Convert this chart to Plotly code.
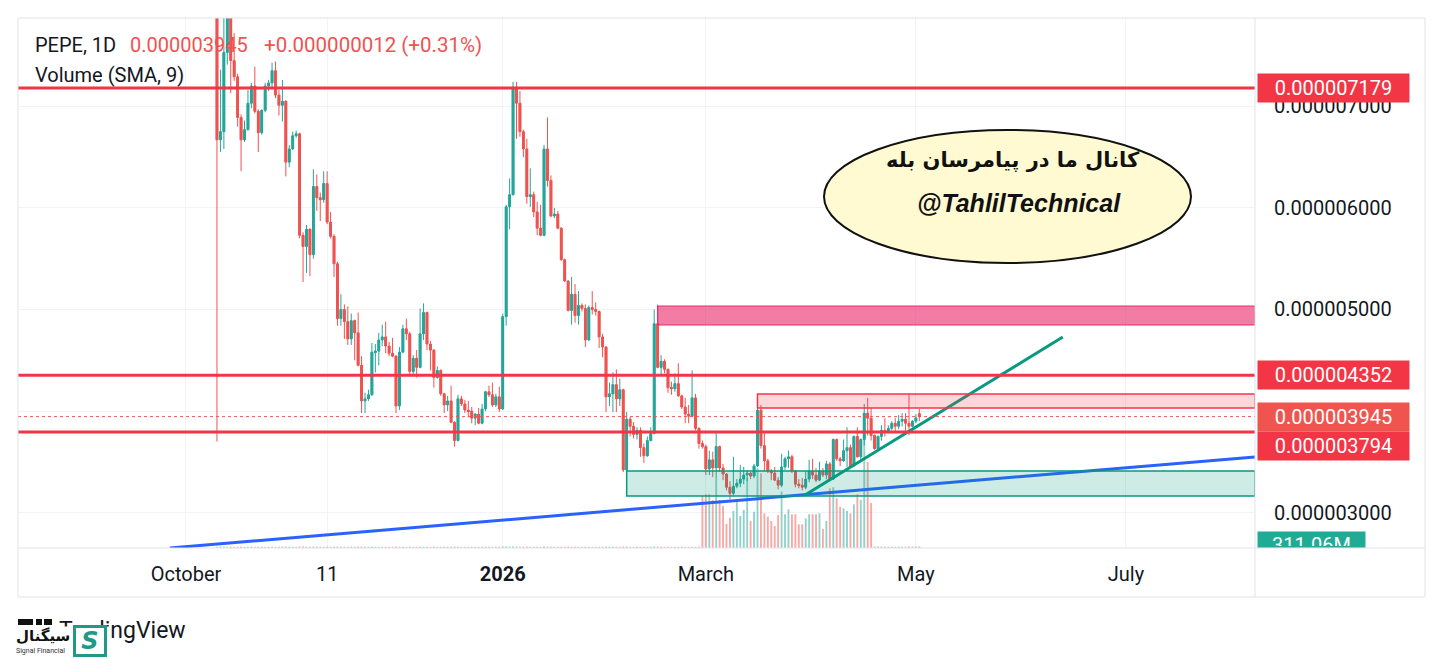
import plotly.graph_objects as go
import pandas as pd

# ---------------- data (prices in units of 1e-6) ----------------
dates = pd.date_range('2025-10-10', '2026-05-02', freq='D')

open_e6 = [
    # Oct 10-31
    9.00, 6.67, 6.75, 7.53, 7.88, 7.45, 7.29, 6.89, 6.67, 6.77, 7.03, 7.20, 6.95, 6.74, 6.96, 7.20, 7.23, 7.35, 7.11, 7.01, 7.05, 6.45,
    # Nov
    6.58, 6.71, 6.73, 5.73, 5.62, 5.79, 5.54, 6.21, 6.10, 6.08, 6.24, 5.86, 5.72, 5.45, 4.91, 5.00, 4.88, 4.71, 4.89, 4.77, 4.45, 4.10, 4.12, 4.16, 4.58, 4.59, 4.70, 4.73, 4.64, 4.57,
    # Dec
    4.54, 4.05, 4.58, 4.81, 4.76, 4.39, 4.52, 4.43, 4.76, 4.97, 4.66, 4.60, 4.33, 4.40, 4.17, 4.06, 4.10, 3.89, 3.71, 4.12, 4.07, 4.01, 4.00, 3.93, 3.97, 3.88, 4.02, 4.19, 4.16, 4.06, 4.14,
    # Jan
    4.02, 4.93, 6.01, 6.13, 7.19, 7.03, 6.75, 6.58, 6.11, 6.13, 5.96, 5.80, 5.73, 6.58, 6.27, 5.92, 5.94, 5.80, 5.49, 5.28, 4.99, 5.15, 4.94, 5.04, 5.01, 4.70, 5.02, 5.00, 4.98, 4.73, 4.63,
    # Feb
    4.14, 4.17, 4.26, 4.12, 4.21, 3.42, 3.92, 3.85, 3.77, 3.81, 3.64, 3.56, 3.71, 3.78, 4.86, 4.43, 4.49, 4.41, 4.23, 4.22, 4.27, 4.15, 4.04, 3.97, 3.95, 4.13, 3.83, 3.68,
    # Mar
    3.65, 3.43, 3.52, 3.44, 3.65, 3.44, 3.38, 3.25, 3.19, 3.26, 3.29, 3.33, 3.37, 3.39, 3.36, 3.46, 4.01, 3.66, 3.51, 3.41, 3.39, 3.32, 3.27, 3.45, 3.53, 3.55, 3.41, 3.28, 3.27, 3.25, 3.33,
    # Apr
    3.41, 3.37, 3.32, 3.41, 3.37, 3.48, 3.33, 3.72, 3.53, 3.51, 3.61, 3.64, 3.46, 3.75, 3.55, 3.72, 3.98, 3.93, 3.76, 3.63, 3.75, 3.81, 3.79, 3.83, 3.88, 3.85, 3.90, 3.92, 3.88, 3.85,
    # May
    3.90, 3.975,
]
high_e6 = [
    9.20, 7.36, 7.88, 8.05, 7.95, 7.72, 7.32, 6.92, 6.86, 7.16, 7.23, 7.39, 6.97, 6.97, 7.23, 7.26, 7.43, 7.44, 7.16, 7.26, 7.06, 6.62,
    6.75, 6.76, 6.74, 5.76, 5.83, 5.80, 6.38, 6.33, 6.15, 6.36, 6.36, 5.96, 5.74, 5.47, 5.15, 5.05, 5.03, 4.96, 4.90, 4.97, 4.54, 4.18, 4.21, 4.67, 4.66, 4.77, 4.85, 4.88, 4.68, 4.72,
    4.55, 4.63, 4.85, 4.91, 4.78, 4.55, 4.60, 5.01, 5.06, 4.98, 4.69, 4.61, 4.44, 4.41, 4.18, 4.15, 4.25, 3.90, 4.16, 4.15, 4.11, 4.10, 4.04, 3.98, 4.03, 4.07, 4.20, 4.25, 4.28, 4.17, 4.24,
    4.96, 6.03, 6.29, 7.24, 7.24, 7.15, 6.77, 6.68, 6.39, 6.16, 6.06, 6.03, 6.62, 6.89, 6.32, 6.00, 5.97, 5.81, 5.50, 5.29, 5.32, 5.25, 5.18, 5.06, 5.05, 5.04, 5.18, 5.07, 4.99, 4.76, 4.64,
    4.28, 4.38, 4.41, 4.32, 4.22, 3.99, 3.94, 3.89, 3.84, 3.84, 3.68, 3.75, 3.84, 5.00, 5.05, 4.55, 4.51, 4.42, 4.29, 4.37, 4.47, 4.16, 4.13, 4.06, 4.40, 4.17, 3.84, 3.71,
    3.67, 3.61, 3.60, 3.80, 3.66, 3.48, 3.39, 3.31, 3.55, 3.33, 3.47, 3.45, 3.42, 3.40, 3.48, 4.16, 4.06, 3.78, 3.53, 3.43, 3.45, 3.35, 3.58, 3.55, 3.61, 3.57, 3.42, 3.33, 3.34, 3.41, 3.52,
    3.53, 3.44, 3.50, 3.44, 3.51, 3.50, 3.73, 3.73, 3.55, 3.72, 3.84, 3.67, 3.76, 3.84, 3.73, 4.07, 4.13, 4.03, 3.77, 3.76, 3.86, 3.93, 3.86, 3.90, 3.93, 3.96, 3.98, 3.98, 4.17, 3.91,
    3.97, 4.02,
]
low_e6 = [
    3.70, 6.55, 6.58, 7.41, 7.13, 7.25, 6.80, 6.36, 6.65, 6.76, 6.98, 6.93, 6.55, 6.72, 6.94, 7.15, 7.19, 7.08, 6.91, 6.85, 6.31, 6.40,
    6.57, 6.69, 5.70, 5.27, 5.36, 5.33, 5.50, 5.97, 5.87, 6.05, 5.84, 5.70, 5.32, 4.84, 4.84, 4.71, 4.65, 4.65, 4.50, 4.44, 3.98, 3.98, 4.10, 4.15, 4.38, 4.45, 4.64, 4.57, 4.54, 4.53,
    3.98, 4.01, 4.57, 4.70, 4.34, 4.36, 4.33, 4.42, 4.70, 4.60, 4.40, 4.23, 4.32, 4.15, 3.98, 4.00, 3.88, 3.65, 3.70, 4.05, 3.98, 3.94, 3.88, 3.86, 3.87, 3.87, 4.00, 4.14, 4.04, 4.04, 3.99,
    4.01, 4.84, 5.79, 6.12, 6.68, 6.70, 6.50, 6.04, 6.01, 5.91, 5.73, 5.72, 5.72, 6.21, 5.91, 5.90, 5.79, 5.48, 5.27, 4.98, 4.85, 4.87, 4.85, 4.98, 4.63, 4.69, 4.95, 4.94, 4.62, 4.53, 3.99,
    4.05, 3.99, 3.99, 4.05, 3.40, 3.41, 3.75, 3.73, 3.72, 3.55, 3.49, 3.55, 3.70, 3.77, 4.42, 4.36, 4.37, 4.18, 4.16, 4.19, 4.14, 4.02, 3.88, 3.88, 3.94, 3.81, 3.63, 3.63,
    3.37, 3.37, 3.35, 3.35, 3.40, 3.32, 3.22, 3.13, 3.17, 3.24, 3.25, 3.28, 3.31, 3.33, 3.34, 3.45, 3.63, 3.41, 3.39, 3.32, 3.31, 3.23, 3.25, 3.42, 3.44, 3.39, 3.25, 3.24, 3.22, 3.23, 3.30,
    3.33, 3.30, 3.31, 3.35, 3.33, 3.31, 3.32, 3.51, 3.46, 3.50, 3.45, 3.45, 3.45, 3.54, 3.52, 3.66, 3.76, 3.71, 3.62, 3.61, 3.71, 3.75, 3.78, 3.81, 3.80, 3.82, 3.85, 3.80, 3.76, 3.84,
    3.88, 3.90,
]
close_e6 = [
    6.67, 6.75, 7.53, 7.88, 7.45, 7.29, 6.89, 6.67, 6.77, 7.03, 7.20, 6.95, 6.74, 6.96, 7.20, 7.23, 7.35, 7.11, 7.01, 7.05, 6.45, 6.58,
    6.71, 6.73, 5.73, 5.62, 5.79, 5.54, 6.21, 6.10, 6.08, 6.24, 5.86, 5.72, 5.45, 4.91, 5.00, 4.88, 4.71, 4.89, 4.77, 4.45, 4.10, 4.12, 4.16, 4.58, 4.59, 4.70, 4.73, 4.64, 4.57, 4.54,
    4.05, 4.58, 4.81, 4.76, 4.39, 4.52, 4.43, 4.76, 4.97, 4.66, 4.60, 4.33, 4.40, 4.17, 4.06, 4.10, 3.89, 3.71, 4.12, 4.07, 4.01, 4.00, 3.93, 3.97, 3.88, 4.02, 4.19, 4.16, 4.06, 4.14, 4.02,
    4.93, 6.01, 6.13, 7.19, 7.03, 6.75, 6.58, 6.11, 6.13, 5.96, 5.80, 5.73, 6.58, 6.27, 5.92, 5.94, 5.80, 5.49, 5.28, 4.99, 5.15, 4.94, 5.04, 5.01, 4.70, 5.02, 5.00, 4.98, 4.73, 4.63, 4.14,
    4.17, 4.26, 4.12, 4.21, 3.42, 3.92, 3.85, 3.77, 3.81, 3.64, 3.56, 3.71, 3.78, 4.86, 4.43, 4.49, 4.41, 4.23, 4.22, 4.27, 4.15, 4.04, 3.97, 3.95, 4.13, 3.83, 3.68, 3.65,
    3.43, 3.52, 3.44, 3.65, 3.44, 3.38, 3.25, 3.19, 3.26, 3.29, 3.33, 3.37, 3.39, 3.36, 3.46, 4.01, 3.66, 3.51, 3.41, 3.39, 3.32, 3.27, 3.45, 3.53, 3.55, 3.41, 3.28, 3.27, 3.25, 3.33, 3.41,
    3.37, 3.32, 3.41, 3.37, 3.48, 3.33, 3.72, 3.53, 3.51, 3.61, 3.64, 3.46, 3.75, 3.55, 3.72, 3.98, 3.93, 3.76, 3.63, 3.75, 3.81, 3.79, 3.83, 3.88, 3.85, 3.90, 3.92, 3.88, 3.85, 3.90,
    3.933, 3.945,
]

# volume in millions
volume_m = [
    # Oct 10-31
    260, 300, 280, 250, 270, 240, 260, 290, 230, 250, 270, 240, 260, 250, 230, 240, 260, 250, 240, 270, 290, 260,
    # Nov
    250, 240, 300, 280, 270, 260, 290, 270, 250, 240, 260, 250, 270, 290, 260, 250, 240, 260, 250, 270, 290, 260, 240, 280, 250, 240, 230, 250, 240, 250,
    # Dec
    280, 260, 250, 240, 260, 240, 250, 270, 260, 250, 240, 260, 240, 250, 260, 240, 250, 280, 270, 240, 230, 240, 250, 230, 240, 250, 260, 240, 250, 240, 250,
    # Jan
    290, 310, 280, 300, 290, 270, 260, 270, 250, 240, 250, 240, 280, 270, 250, 240, 230, 250, 260, 270, 260, 250, 240, 230, 250, 240, 230, 240, 250, 240, 280,
    # Feb 1-27
    260, 250, 260, 240, 300, 290, 250, 240, 230, 250, 240, 230, 240, 300, 280, 250, 240, 250, 240, 230, 240, 250, 240, 230, 250, 240, 250,
    # Feb 28 - Apr 18
    10460, 10740, 10740, 9600, 14200, 9600, 8400, 4800, 6060, 7400, 9600, 6400, 7600, 14060, 5400, 7260, 16060, 14940, 6940, 6260,
    5400, 4400, 6600, 11260, 6740, 7740, 6740, 6740, 4740, 4740, 5940, 6740, 6740, 6740, 6940, 3800, 5400, 11940, 12140, 9940,
    8260, 7940, 7400, 6940, 8740, 10740, 9600, 24200, 17200, 9000,
    # Apr 19 - May 2
    300, 280, 290, 270, 260, 280, 250, 270, 260, 280, 300, 290, 300, 311.06,
]

# levels and drawings (price units 1e-6)
red_levels = [7.179, 4.352, 3.794]
last_price = 3.945
pink_zone = ('2026-02-15', 4.847, 5.034)
light_zone = ('2026-03-16', 4.030, 4.168)
green_zone = ('2026-02-06', 3.164, 3.410)
blue_line_dates = ['2025-09-26 08:00', '2026-08-07 12:00']
blue_line_vals = [2.652, 3.548]
green_line_dates = ['2026-03-29 19:00', '2026-06-12 16:00']
green_line_vals = [3.174, 4.729]

x_ticks = ['2025-10-01', '2025-11-11', '2026-01-01', '2026-03-01', '2026-05-01', '2026-07-01']
x_tick_text = ['October', '11', '<b>2026</b>', 'March', 'May', 'July']
y_ticks = [3, 4, 5, 6, 7]
y_tick_text = ['0.000003000', '', '0.000005000', '0.000006000', '0.000007000']

E = 1e-6
DAY_MS = 86400000
UP = '#26A69A'
DN = '#EF5350'
RED = '#F23645'
TXT = '#131722'
FONT = 'Roboto'
TEAL = '#1E9A86'

def px_x(px):
    return (px - 18) / 1237.0

def px_y(py):
    return (548 - py) / 530.0

is_up = [c >= o for o, c in zip(open_e6, close_e6)]
vol_colors = ['rgba(38,166,154,0.5)' if u else 'rgba(239,83,80,0.5)' for u in is_up]
body_colors = [UP if u else DN for u in is_up]

fig = go.Figure()
fig.add_trace(go.Bar(x=dates, y=volume_m, marker_color=vol_colors, marker_line_width=0,
                     width=0.55 * DAY_MS, yaxis='y', showlegend=False, hoverinfo='skip'))
fig.add_trace(go.Candlestick(
    x=dates,
    open=[v * E for v in open_e6], high=[v * E for v in high_e6],
    low=[v * E for v in low_e6], close=[v * E for v in close_e6],
    increasing=dict(line=dict(color=UP, width=1), fillcolor=UP),
    decreasing=dict(line=dict(color=DN, width=1), fillcolor=DN),
    whiskerwidth=0, yaxis='y2', showlegend=False))
# candle bodies, slightly wider (TradingView style)
fig.add_trace(go.Bar(x=dates, base=[min(o, c) * E for o, c in zip(open_e6, close_e6)],
                     y=[abs(c - o) * E for o, c in zip(open_e6, close_e6)],
                     width=0.8 * DAY_MS, marker_color=body_colors, marker_line_width=0,
                     yaxis='y2', showlegend=False, hoverinfo='skip'))
fig.add_trace(go.Scatter(x=blue_line_dates, y=[v * E for v in blue_line_vals], mode='lines',
                         line=dict(color='#2962FF', width=3), yaxis='y2', showlegend=False))
fig.add_trace(go.Scatter(x=green_line_dates, y=[v * E for v in green_line_vals], mode='lines',
                         line=dict(color='#089981', width=3), yaxis='y2', showlegend=False))

x_end = '2026-08-07 12:00'
shapes = []
# zones
shapes.append(dict(type='rect', xref='x', yref='y2', x0=pink_zone[0], x1=x_end,
                   y0=pink_zone[1] * E, y1=pink_zone[2] * E,
                   fillcolor='rgba(233,30,99,0.58)', line=dict(color='rgba(233,30,99,0.9)', width=1), layer='above'))
shapes.append(dict(type='rect', xref='x', yref='y2', x0=light_zone[0], x1=x_end,
                   y0=light_zone[1] * E, y1=light_zone[2] * E,
                   fillcolor='rgba(242,54,69,0.2)', line=dict(color=RED, width=1.5), layer='above'))
shapes.append(dict(type='rect', xref='x', yref='y2', x0=green_zone[0], x1=x_end,
                   y0=green_zone[1] * E, y1=green_zone[2] * E,
                   fillcolor='rgba(8,153,129,0.2)', line=dict(color='#089981', width=1.5), layer='above'))
# horizontal levels
for lv in red_levels:
    shapes.append(dict(type='line', xref='paper', yref='y2', x0=0, x1=1, y0=lv * E, y1=lv * E,
                       line=dict(color=RED, width=3), layer='above'))
shapes.append(dict(type='line', xref='paper', yref='y2', x0=0, x1=1, y0=last_price * E, y1=last_price * E,
                   line=dict(color=DN, width=1, dash='dot'), layer='above'))
# frame
shapes.append(dict(type='rect', xref='paper', yref='paper', x0=0, x1=px_x(1425), y0=px_y(597), y1=1,
                   line=dict(color='#E0E3EB', width=1), layer='above'))
shapes.append(dict(type='line', xref='paper', yref='paper', x0=1, x1=1, y0=px_y(597), y1=1,
                   line=dict(color='#E0E3EB', width=1), layer='above'))
shapes.append(dict(type='line', xref='paper', yref='paper', x0=0, x1=px_x(1425), y0=0, y1=0,
                   line=dict(color='#E0E3EB', width=1), layer='above'))
# ellipse callout
shapes.append(dict(type='circle', xref='paper', yref='paper', x0=px_x(824), x1=px_x(1191),
                   y0=px_y(263), y1=px_y(130), fillcolor='#FFFAD2', line=dict(color='#111111', width=2),
                   layer='above'))
# TradingView logo bits
for a, b in [(18, 33), (36, 42), (44, 52)]:
    shapes.append(dict(type='rect', xref='paper', yref='paper', x0=px_x(a), x1=px_x(b),
                       y0=px_y(625), y1=px_y(619), fillcolor='#111111', line=dict(width=0), layer='above'))

ann = []
# header
ann.append(dict(text='PEPE, 1D', x=px_x(33), y=px_y(45), xref='paper', yref='paper', xanchor='left',
                yanchor='middle', showarrow=False, font=dict(family=FONT, size=20, color=TXT)))
ann.append(dict(text='0.000003945', x=px_x(128), y=px_y(45), xref='paper', yref='paper', xanchor='left',
                yanchor='middle', showarrow=False, font=dict(family=FONT, size=20, color=DN)))
ann.append(dict(text='+0.000000012 (+0.31%)', x=px_x(262), y=px_y(45), xref='paper', yref='paper',
                xanchor='left', yanchor='middle', showarrow=False, font=dict(family=FONT, size=20.5, color=DN)))
ann.append(dict(text='Volume (SMA, 9)', x=px_x(33), y=px_y(75), xref='paper', yref='paper', xanchor='left',
                yanchor='middle', showarrow=False, font=dict(family=FONT, size=20, color=TXT)))
# price labels
for lv, bg, ys in [(7.179, RED, 0), (4.352, RED, 0), (3.945, '#F0544F', 0), (3.794, RED, -14)]:
    ann.append(dict(text='{:.9f}'.format(lv * E), x=1, xref='paper', y=lv * E, yref='y2', xanchor='left',
                    yanchor='middle', xshift=2, yshift=ys, showarrow=False, bgcolor=bg, width=145, height=22,
                    borderpad=3, align='center', font=dict(family=FONT, size=20, color='white')))
ann.append(dict(text='311.06M', x=1, xref='paper', y=0, yref='paper', xanchor='left', yanchor='bottom',
                xshift=2, showarrow=False, bgcolor='#22AB94', width=105, height=13, borderpad=1,
                valign='top', align='center', font=dict(family=FONT, size=20, color='white')))
# ellipse texts
ann.append(dict(text='<b>کانال ما در پیامرسان بله</b>', x=px_x(1013), y=px_y(160), xref='paper', yref='paper',
                xanchor='center', yanchor='middle',
                showarrow=False, font=dict(family='DejaVu Sans', size=21, color='#111111')))
ann.append(dict(text='<b><i>@TahlilTechnical</i></b>', x=px_x(1019), y=px_y(203), xref='paper',
                yref='paper', xanchor='center', yanchor='middle',
                showarrow=False, font=dict(family='Liberation Sans', size=25, color='#111111')))
# bottom: TradingView watermark, partly covered by the Signal logo
ann.append(dict(text='TradingView', x=px_x(57), y=px_y(630), xref='paper', yref='paper', xanchor='left',
                yanchor='middle', showarrow=False, font=dict(family=FONT, size=23, color=TXT)))
ann.append(dict(text='&nbsp;', x=px_x(10), y=px_y(626), xref='paper', yref='paper', xanchor='left',
                yanchor='top', showarrow=False, bgcolor='white', width=98, height=33, borderpad=0,
                font=dict(family=FONT, size=10, color='white')))
ann.append(dict(text='<b>سیگنال</b>', x=px_x(14), y=px_y(636), xref='paper', yref='paper', xanchor='left',
                yanchor='middle', showarrow=False, font=dict(family='DejaVu Sans', size=15, color='#111111')))
ann.append(dict(text='Signal Financial', x=px_x(14), y=px_y(651), xref='paper', yref='paper', xanchor='left',
                yanchor='middle', showarrow=False, font=dict(family=FONT, size=7, color='#333333')))
ann.append(dict(text='<b><i>S</i></b>', x=px_x(90), y=px_y(641), xref='paper', yref='paper', xanchor='center',
                yanchor='middle', showarrow=False, bgcolor='white', bordercolor=TEAL, borderwidth=3,
                width=26, height=24, borderpad=1,
                font=dict(family='DejaVu Sans', size=24, color=TEAL)))

fig.update_layout(
    width=1436, height=651,
    margin=dict(l=10, r=189, t=10, b=111),
    paper_bgcolor='white', plot_bgcolor='white',
    showlegend=False, barmode='overlay',
    shapes=shapes, annotations=ann,
    xaxis=dict(range=['2025-08-13 05:00', x_end], tickvals=x_ticks, ticktext=x_tick_text,
               showgrid=True, gridcolor='#F0F3FA', gridwidth=1, zeroline=False, showline=False,
               ticks='', ticklabelstandoff=12, tickfont=dict(family=FONT, size=20, color=TXT),
               rangeslider=dict(visible=False), fixedrange=True),
    yaxis=dict(range=[0, 106000], visible=False, showgrid=False, fixedrange=True),
    yaxis2=dict(overlaying='y', side='right', range=[2.652 * E, 7.869 * E],
                tickvals=[v * E for v in y_ticks], ticktext=y_tick_text,
                showgrid=True, gridcolor='#F0F3FA', gridwidth=1, zeroline=False, showline=False,
                ticks='', ticklabelstandoff=18, tickfont=dict(family=FONT, size=20, color=TXT),
                fixedrange=True),
)

fig.write_html('out.html')
